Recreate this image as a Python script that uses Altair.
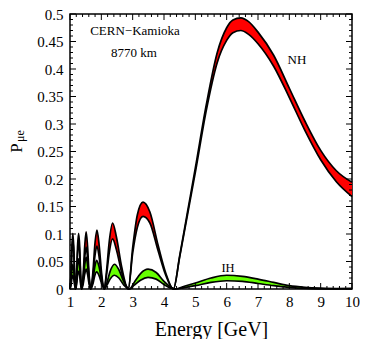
import altair as alt
import pandas as pd

# ---------------- data ----------------
NH_E = [1.00, 1.03, 1.06, 1.09, 1.12, 1.15,
        1.18, 1.21, 1.24, 1.275, 1.31, 1.34,
        1.37, 1.42, 1.47, 1.515, 1.56, 1.61,
        1.66, 1.73, 1.80, 1.86, 1.93, 2.01,
        2.09, 2.17, 2.25, 2.36, 2.48, 2.65,
        2.86, 3.00, 3.15, 3.33, 3.55, 3.81, 4.05,
        4.30, 4.50, 4.75, 5.00, 5.35, 5.70, 6.00, 6.20, 6.45, 6.70, 7.00,
        7.50, 8.00, 8.50, 9.00, 9.50, 10.0]
NH_HI = [0, 0.025, 0.076, 0.101, 0.076, 0.025,
         0, 0.025, 0.076, 0.101, 0.076, 0.025,
         0, 0.026, 0.078, 0.104, 0.078, 0.026,
         0, 0.030, 0.085, 0.107, 0.080, 0.028,
         0, 0.035, 0.085, 0.120, 0.095, 0.040,
         0, 0.075, 0.135, 0.158, 0.140, 0.080, 0.030,
         0, 0.060, 0.140, 0.220, 0.335, 0.430, 0.475, 0.489, 0.493, 0.486, 0.467,
         0.425, 0.365, 0.305, 0.252, 0.215, 0.194]
NH_LO = [0, 0.022, 0.068, 0.090, 0.068, 0.022,
         0, 0.021, 0.064, 0.085, 0.064, 0.021,
         0, 0.019, 0.057, 0.076, 0.057, 0.019,
         0, 0.022, 0.062, 0.078, 0.058, 0.020,
         0, 0.027, 0.065, 0.091, 0.072, 0.030,
         0, 0.065, 0.112, 0.132, 0.120, 0.070, 0.026,
         0, 0.058, 0.135, 0.212, 0.325, 0.412, 0.452, 0.466, 0.470, 0.463, 0.446,
         0.405, 0.348, 0.288, 0.235, 0.195, 0.168]

IH_E = [1.00, 1.03, 1.06, 1.09, 1.12, 1.15,
        1.18, 1.21, 1.24, 1.275, 1.31, 1.34,
        1.37, 1.42, 1.47, 1.515, 1.56, 1.61,
        1.66, 1.73, 1.79, 1.85, 1.93, 2.02,
        2.10, 2.18, 2.28, 2.42, 2.56, 2.72,
        2.90, 3.05, 3.25, 3.49, 3.75, 4.00, 4.20,
        4.35, 4.70, 5.00, 5.50, 6.00, 6.50, 7.00, 7.50, 8.00, 8.50, 9.00, 9.50, 10.0]
IH_HI = [0, 0.011, 0.034, 0.045, 0.034, 0.011,
         0, 0.014, 0.041, 0.055, 0.041, 0.014,
         0, 0.015, 0.044, 0.058, 0.044, 0.015,
         0, 0.015, 0.040, 0.052, 0.040, 0.013,
         0, 0.012, 0.032, 0.045, 0.035, 0.013,
         0, 0.012, 0.028, 0.036, 0.030, 0.014, 0.004,
         0, 0.006, 0.011, 0.020, 0.025, 0.023, 0.018, 0.012, 0.006, 0.003, 0.0015, 0.0008, 0.001]
IH_LO = [0, 0.006, 0.019, 0.025, 0.019, 0.006,
         0, 0.008, 0.024, 0.032, 0.024, 0.008,
         0, 0.009, 0.027, 0.036, 0.027, 0.009,
         0, 0.009, 0.024, 0.031, 0.024, 0.008,
         0, 0.007, 0.018, 0.025, 0.020, 0.007,
         0, 0.007, 0.016, 0.021, 0.018, 0.008, 0.002,
         0, 0.003, 0.006, 0.012, 0.015, 0.014, 0.010, 0.006, 0.003, 0.001, 0.0003, 0, 0]

X_MAJOR = [1, 2, 3, 4, 5, 6, 7, 8, 9, 10]
X_MINOR = [round(1 + 0.2 * i, 2) for i in range(46) if i % 5 != 0]
Y_MAJOR = [round(0.05 * i, 2) for i in range(11)]
Y_MINOR = [round(0.01 * i, 2) for i in range(51) if i % 5 != 0]

W, H = 282, 275
FONT = "Liberation Serif"

df = pd.concat([
    pd.DataFrame({"E": NH_E, "hi": NH_HI, "lo": NH_LO, "h": "NH"}),
    pd.DataFrame({"E": IH_E, "hi": IH_HI, "lo": IH_LO, "h": "IH"}),
], ignore_index=True)

xs = alt.Scale(domain=[1, 10], nice=False, zero=False)
ys = alt.Scale(domain=[0, 0.5], nice=False)

xaxis = alt.Axis(values=X_MAJOR, title="Energy [GeV]", titlePadding=10)
yaxis = alt.Axis(values=Y_MAJOR, format="~g", title=None)

base = alt.Chart(df)

area = base.mark_area(interpolate="monotone", opacity=1).encode(
    x=alt.X("E:Q", scale=xs, axis=xaxis),
    y=alt.Y("hi:Q", scale=ys, axis=yaxis),
    y2="lo:Q",
    color=alt.Color("h:N", scale=alt.Scale(domain=["NH", "IH"], range=["#ff0000", "#66ff00"]),
                    legend=None),
    order=alt.Order("h:N", sort="descending"),
)

line_hi = base.mark_line(interpolate="monotone", color="black", strokeWidth=1.7).encode(
    x=alt.X("E:Q", scale=xs, axis=xaxis), y=alt.Y("hi:Q", scale=ys, axis=yaxis), detail="h:N")
line_lo = base.mark_line(interpolate="monotone", color="black", strokeWidth=1.7).encode(
    x=alt.X("E:Q", scale=xs, axis=xaxis), y=alt.Y("lo:Q", scale=ys, axis=yaxis), detail="h:N")

def xticks(vals, length):
    d = alt.Chart(pd.DataFrame({"v": vals}))
    b = d.mark_rule(color="black", strokeWidth=1).encode(
        x=alt.X("v:Q", scale=xs, axis=xaxis), y=alt.value(H), y2=alt.value(H - length))
    t = d.mark_rule(color="black", strokeWidth=1).encode(
        x=alt.X("v:Q", scale=xs, axis=xaxis), y=alt.value(0), y2=alt.value(length))
    return b + t

def yticks(vals, length):
    d = alt.Chart(pd.DataFrame({"v": vals}))
    l = d.mark_rule(color="black", strokeWidth=1).encode(
        y=alt.Y("v:Q", scale=ys, axis=yaxis), x=alt.value(0), x2=alt.value(length))
    r = d.mark_rule(color="black", strokeWidth=1).encode(
        y=alt.Y("v:Q", scale=ys, axis=yaxis), x=alt.value(W), x2=alt.value(W - length))
    return l + r

def label(text, x, y, size, angle=0):
    return alt.Chart(pd.DataFrame({"t": [text]})).mark_text(
        font=FONT, fontSize=size, color="black", angle=angle,
        align="center", baseline="middle").encode(
        text="t:N", x=alt.value(x), y=alt.value(y))

chart = alt.layer(
    area, line_hi, line_lo,
    xticks(X_MAJOR, 6), xticks(X_MINOR, 3),
    yticks(Y_MAJOR, 6), yticks(Y_MINOR, 3),
    label("CERN\u2212Kamioka", 65, 17, 13),
    label("8770 km", 64, 39, 13),
    label("NH", 227, 46, 13),
    label("IH", 158, 254, 12.5),
    label("P", -53, 134, 17, 270),
    label("\u03bce", -50, 122, 12, 270),
).properties(
    width=W, height=H,
    autosize=alt.AutoSizeParams(type="none"),
    padding={"left": 62, "top": 6, "right": 8, "bottom": 50},
).configure_view(stroke="black", strokeWidth=1.5).configure_axis(
    ticks=False, grid=False, domain=False, labelOverlap=False, labelFlush=False,
    labelFont=FONT, labelFontSize=15, labelColor="black", labelPadding=5,
    titleFont=FONT, titleFontSize=20, titleFontWeight="normal", titleColor="black",
).configure_axisY(labelPadding=7)

chart.save("out.html", embed_options={"renderer": "svg", "actions": False})
